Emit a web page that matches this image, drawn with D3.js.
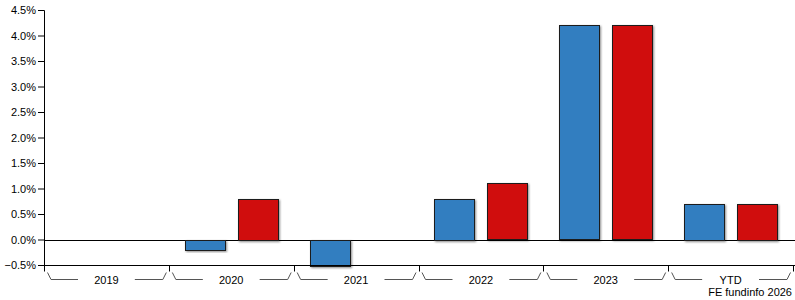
<!DOCTYPE html>
<html>
<head>
<meta charset="utf-8">
<script src="https://cdn.jsdelivr.net/npm/d3@7"></script>
<style>
  body { margin: 0; background: #fff; }
  text { font-family: "Liberation Sans", Arial, sans-serif; font-size: 11px; fill: #000; }
</style>
</head>
<body>
<div id="chart"></div>
<script>
// periods along the x axis
const periods = ["2019", "2020", "2021", "2022", "2023", "YTD"];
// fund returns (%) - null where no bar is drawn
const fundValues = [null, -0.2, -0.5, 0.8, 4.2, 0.7];
const sectorValues = [null, 0.8, null, 1.1, 4.2, 0.7];
const seriesNames = ["Fund", "Sector"];
const seriesColors = ["#337ec0", "#d01111"];
const yTicks = [-0.5, 0, 0.5, 1, 1.5, 2, 2.5, 3, 3.5, 4, 4.5];

const width = 795, height = 300;
const margin = {top: 10, right: 2, bottom: 35, left: 44};

const svg = d3.select("#chart").append("svg")
    .attr("width", width)
    .attr("height", height);

const x = d3.scaleBand()
    .domain(periods)
    .range([margin.left, width - margin.right]);

const y = d3.scaleLinear()
    .domain([-0.5, 4.5])
    .range([height - margin.bottom, margin.top]);

const inner = d3.scaleBand()
    .domain(seriesNames)
    .range([0, x.bandwidth()])
    .paddingInner(0.245)
    .paddingOuter(0.3);

const defs = svg.append("defs");
const shadow = defs.append("filter").attr("id", "shadow")
    .attr("x", "-20%").attr("y", "-20%").attr("width", "140%").attr("height", "140%");
shadow.append("feDropShadow")
    .attr("dx", 1).attr("dy", 1).attr("stdDeviation", 0.8)
    .attr("flood-color", "#000").attr("flood-opacity", 0.45);

// y axis
const yAxis = svg.append("g")
    .attr("transform", `translate(${margin.left},0)`)
    .call(d3.axisLeft(y).tickValues(yTicks).tickSize(6).tickPadding(2)
        .tickFormat(d => d3.format(".1f")(d) + "%"));
yAxis.select(".domain").attr("stroke", "#000");
yAxis.selectAll("line").attr("stroke", "#000");
yAxis.selectAll("text").style("font-size", "11px").attr("fill", "#000");

// zero line
svg.append("line")
    .attr("x1", margin.left).attr("x2", width)
    .attr("y1", Math.round(y(0)) + 0.5).attr("y2", Math.round(y(0)) + 0.5)
    .attr("stroke", "#000");

// bars
const rows = periods.map((p, i) => ({period: p, vals: [fundValues[i], sectorValues[i]]}));
const barData = [];
rows.forEach(r => r.vals.forEach((v, j) => {
    if (v !== null) barData.push({period: r.period, series: seriesNames[j], value: v, color: seriesColors[j]});
}));

svg.append("g")
    .selectAll("rect")
    .data(barData)
    .enter()
    .append("rect")
    .attr("x", d => Math.round(x(d.period) + inner(d.series)) + 0.5)
    .attr("y", d => Math.round(y(Math.max(0, d.value))) + 0.5)
    .attr("width", Math.round(inner.bandwidth()))
    .attr("height", d => Math.round(Math.abs(y(d.value) - y(0))))
    .attr("fill", d => d.color)
    .attr("stroke", "#1a1a1a")
    .attr("stroke-width", 1)
    .attr("filter", "url(#shadow)");

// x axis
const xAxisY = Math.round(y(-0.5)) + 0.5;
svg.append("line")
    .attr("x1", margin.left).attr("x2", width)
    .attr("y1", xAxisY).attr("y2", xAxisY)
    .attr("stroke", "#000");

const xTicks = periods.map(p => x(p)).concat([x.range()[1]]);
svg.append("g")
    .selectAll("line")
    .data(xTicks)
    .enter()
    .append("line")
    .attr("x1", d => Math.round(d) + 0.5).attr("x2", d => Math.round(d) + 0.5)
    .attr("y1", xAxisY).attr("y2", xAxisY + 6)
    .attr("stroke", "#000");

// period labels with brace lines
const bw = x.bandwidth();
const braces = svg.append("g").selectAll("g")
    .data(periods)
    .enter()
    .append("g")
    .attr("transform", d => `translate(${x(d)},0)`);

braces.append("path")
    .attr("d", `M${3.5},272.5 L${7},279.5 L${34},279.5`)
    .attr("fill", "none").attr("stroke", "#555");
braces.append("path")
    .attr("d", `M${bw - 34},279.5 L${bw - 6},279.5 L${bw - 2.5},272.5`)
    .attr("fill", "none").attr("stroke", "#555");
braces.append("text")
    .attr("x", bw / 2)
    .attr("y", 284)
    .attr("text-anchor", "middle")
    .text(d => d);

svg.append("text")
    .attr("x", width - 3)
    .attr("y", 296)
    .attr("text-anchor", "end")
    .text("FE fundinfo 2026");
</script>
</body>
</html>
